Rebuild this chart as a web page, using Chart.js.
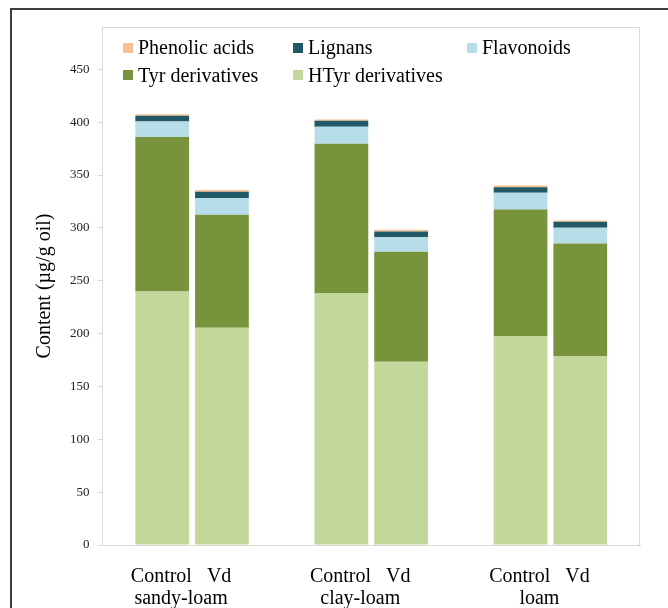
<!DOCTYPE html>
<html>
<head>
<meta charset="utf-8">
<script src="https://cdn.jsdelivr.net/npm/chart.js@4.4.1/dist/chart.umd.min.js"></script>
<style>
    body { margin: 0; background: #fff; overflow: hidden; }
    #wrap { position: relative; width: 668px; height: 608px; }
    #frame { position: absolute; left: 10px; top: 8px; width: 700px; height: 700px;
             border-left: 2px solid #3f3f3f; border-top: 2px solid #3f3f3f; pointer-events: none; }
    #legend { position: absolute; left: 123px; top: 34px; display: grid;
              grid-template-columns: 170px 174px auto; grid-auto-rows: 27.5px;
              font-family: "Liberation Serif", "Times New Roman", serif; font-size: 20px; color: #000; }
    #legend div { display: flex; align-items: center; white-space: nowrap; }
    #legend span.box { width: 10px; height: 10px; margin-right: 5px; display: inline-block; }
</style>
</head>
<body>
<div id="wrap">
    <canvas id="chart" width="668" height="608"></canvas>
    <div id="frame"></div>
    <div id="legend"></div>
</div>
<script>
//Categories
var treatments = ["Control", "Vd"];
var soils      = ["sandy-loam", "clay-loam", "loam"];

//Series values (µg/g oil), order: sandy-loam Control, Vd, clay-loam Control, Vd, loam Control, Vd
var htyrValues     = [239.7, 205.6, 237.8, 173.4, 197.7, 178.4];
var tyrValues      = [146.2, 106.8, 141.8, 103.9, 119.7, 106.8];
var flavonoids     = [14.6, 15.7, 16.1, 13.8, 15.8, 14.8];
var lignans        = [5.5, 6.0, 5.7, 5.4, 5.3, 5.7];
var phenolicAcids  = [1.4, 1.6, 1.2, 1.6, 1.6, 1.3];

//Y ticks
var yTickMax  = 450;
var yTickStep = 50;

var serif = '"Liberation Serif", "Times New Roman", serif';

//Slots: empty slot before, between and after each soil group
var slotLabels = [];
var slotIndex  = [];
slotLabels.push("");
slotIndex.push(-1);
for (i = 0; i < soils.length; i++) {
    for (j = 0; j < treatments.length; j++) {
        slotLabels.push(treatments[j]);
        slotIndex.push(i * treatments.length + j);
    }
    slotLabels.push("");
    slotIndex.push(-1);
}

var toSlots = function(values){
    var out = [];
    for (i = 0; i < slotIndex.length; i++) {
        out.push(slotIndex[i] < 0 ? null : values[slotIndex[i]]);
    }
    return out;
};

//Group labels sit between the two bars of each soil
var groupLabels = [""];
for (i = 0; i < soils.length; i++) {
    groupLabels.push([treatments.join("   "), soils[i]]);
    groupLabels.push("");
}

var areaFrame = {
    id: 'areaFrame',
    afterDraw: function(chart){
        var a = chart.chartArea, ctx = chart.ctx;
        ctx.save();
        ctx.strokeStyle = '#D9D9D9';
        ctx.lineWidth = 1;
        ctx.beginPath();
        ctx.moveTo(a.left, a.top + 0.5);
        ctx.lineTo(a.right - 0.5, a.top + 0.5);
        ctx.lineTo(a.right - 0.5, a.bottom);
        ctx.stroke();
        ctx.restore();
    }
};

var chart = new Chart(document.getElementById('chart').getContext('2d'), {
    type: 'bar',
    data: {
        labels: slotLabels,
        datasets: [
            { label: 'HTyr derivatives', data: toSlots(htyrValues),    backgroundColor: '#C4D79B' },
            { label: 'Tyr derivatives',  data: toSlots(tyrValues),     backgroundColor: '#77933C' },
            { label: 'Flavonoids',       data: toSlots(flavonoids),    backgroundColor: '#B7DEE8' },
            { label: 'Lignans',          data: toSlots(lignans),       backgroundColor: '#215967' },
            { label: 'Phenolic acids',   data: toSlots(phenolicAcids), backgroundColor: '#FAC090' }
        ]
    },
    options: {
        responsive: false,
        animation: false,
        barPercentage: 0.9,
        categoryPercentage: 1,
        layout: { padding: { left: 29, right: 28, top: 27, bottom: 0 } },
        plugins: {
            legend: { display: false },
            tooltip: { enabled: false }
        },
        scales: {
            x: {
                display: false,
                stacked: true,
                offset: false
            },
            x2: {
                type: 'category',
                labels: groupLabels,
                position: 'bottom',
                offset: false,
                afterFit: function(scale){ scale.height = 63; },
                grid: { display: false, drawTicks: false },
                border: { display: true, color: '#D9D9D9' },
                ticks: {
                    autoSkip: false,
                    maxRotation: 0,
                    labelOffset: -11,
                    padding: 21,
                    color: '#000',
                    font: { family: serif, size: 20, lineHeight: 1.1 }
                }
            },
            y: {
                stacked: true,
                min: 0,
                max: 490,
                afterBuildTicks: function(axis){
                    axis.ticks = axis.ticks.filter(function(t){ return t.value <= yTickMax; });
                },
                ticks: {
                    stepSize: yTickStep,
                    padding: 8,
                    color: '#222',
                    font: { family: serif, size: 13 }
                },
                grid: { drawOnChartArea: false, drawTicks: true, tickLength: 5, color: '#D9D9D9' },
                border: { color: '#D9D9D9' },
                title: {
                    display: true,
                    text: 'Content (µg/g oil)',
                    color: '#000',
                    padding: { top: 4, bottom: 5 },
                    font: { family: serif, size: 20, lineHeight: 1.2 }
                }
            }
        }
    },
    plugins: [areaFrame]
});

//Legend: three columns, reverse of the stack order
var legendBox = document.getElementById('legend');
var ds = chart.data.datasets;
for (i = ds.length - 1; i >= 0; i--) {
    var item = document.createElement('div');
    item.innerHTML = '<span class="box" style="background:' + ds[i].backgroundColor + '"></span>' + ds[i].label;
    legendBox.appendChild(item);
}
</script>
</body>
</html>
